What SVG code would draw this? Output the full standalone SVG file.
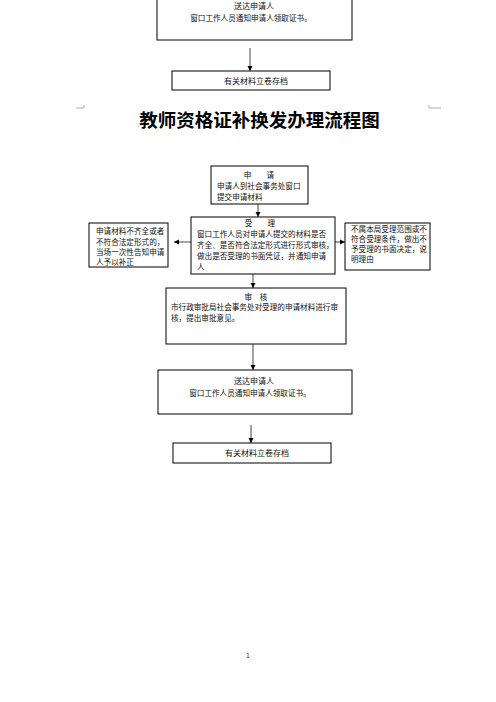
<svg xmlns="http://www.w3.org/2000/svg" width="496" height="702" viewBox="0 0 496 702">
<defs>
<style>
.box{fill:#fff;stroke:#000;stroke-width:1}
.t{font-family:"Noto Sans CJK SC","Liberation Sans",sans-serif;font-size:7.6px;fill:#111}
.c{text-anchor:middle}
.title{font-family:"Noto Sans CJK SC","Liberation Sans",sans-serif;font-size:18.5px;font-weight:bold;fill:#000;text-anchor:middle}
.ln{stroke:#444;stroke-width:1;fill:none;marker-end:url(#ah)}
.mark{stroke:#999;stroke-width:0.8;fill:none}
</style>
<marker id="ah" markerUnits="userSpaceOnUse" markerWidth="6" markerHeight="6" refX="5" refY="3" orient="auto">
<path d="M0,0.5 L5,3 L0,5.5 Z" fill="#000"/>
</marker>
</defs>
<rect width="496" height="702" fill="#fff"/>

<g id="connectors">
<line class="ln" x1="250" y1="48" x2="250" y2="71"/>
<line class="ln" x1="258" y1="204" x2="258" y2="217"/>
<line class="ln" x1="191" y1="242" x2="174" y2="242"/>
<line class="ln" x1="335" y1="242" x2="345" y2="242"/>
<line class="ln" x1="253" y1="274" x2="253" y2="288"/>
<line class="ln" x1="253" y1="344" x2="253" y2="370"/>
<line class="ln" x1="251" y1="425" x2="251" y2="443"/>
</g>

<g id="top-deliver">
<rect class="box" x="157" y="-10" width="195" height="50"/>
<text class="t c" x="254" y="8.5" style="font-size:8px">送达申请人</text>
<text class="t c" x="251" y="20.5">窗口工作人员通知申请人领取证书。</text>
</g>

<g id="top-archive">
<rect class="box" x="172" y="71" width="158" height="19"/>
<text class="t c" x="256" y="84" style="font-size:8px">有关材料立卷存档</text>
</g>

<g id="crop-marks">
<path class="mark" d="M76,108 H84 V105"/>
<path class="mark" d="M441,108 H429 V105"/>
</g>

<text class="title" x="259.5" y="127">教师资格证补换发办理流程图</text>

<g id="apply">
<rect class="box" x="211" y="166" width="97" height="38"/>
<text class="t c" x="259" y="178">申　　请</text>
<text class="t" x="217" y="189">申请人到社会事务处窗口</text>
<text class="t" x="217" y="200">提交申请材料</text>
</g>

<g id="accept">
<rect class="box" x="191" y="217" width="144" height="57"/>
<text class="t c" x="260" y="225.5">受　　理</text>
<text class="t" x="197" y="237">窗口工作人员对申请人提交的材料是否</text>
<text class="t" x="197" y="248">齐全、是否符合法定形式进行形式审核，</text>
<text class="t" x="197" y="259">做出是否受理的书面凭证，并通知申请</text>
<text class="t" x="197" y="269.5">人</text>
</g>

<g id="incomplete">
<rect class="box" x="89" y="223" width="79" height="44"/>
<text class="t" x="96" y="234">申请材料不齐全或者</text>
<text class="t" x="96" y="244.5">不符合法定形式的，</text>
<text class="t" x="96" y="255">当场一次性告知申请</text>
<text class="t" x="96" y="265">人予以补正</text>
</g>

<g id="reject">
<rect class="box" x="345" y="223" width="85" height="47"/>
<text class="t" x="351" y="232">不属本局受理范围或不</text>
<text class="t" x="351" y="242">符合受理条件，做出不</text>
<text class="t" x="351" y="252">予受理的书面决定，说</text>
<text class="t" x="351" y="262">明理由</text>
</g>

<g id="review">
<rect class="box" x="166" y="288" width="180" height="56"/>
<text class="t c" x="256" y="300">审　核</text>
<text class="t" x="171" y="310">市行政审批局社会事务处对受理的申请材料进行审</text>
<text class="t" x="171" y="320.5">核，提出审批意见。</text>
</g>

<g id="deliver">
<rect class="box" x="158" y="370" width="194" height="44"/>
<text class="t c" x="254" y="384" style="font-size:8px">送达申请人</text>
<text class="t c" x="250" y="396">窗口工作人员通知申请人领取证书。</text>
</g>

<g id="archive">
<rect class="box" x="173" y="443" width="158" height="20"/>
<text class="t c" x="257" y="456" style="font-size:8px">有关材料立卷存档</text>
</g>

<text class="t c" x="248" y="658" style="font-size:6px">1</text>
</svg>
